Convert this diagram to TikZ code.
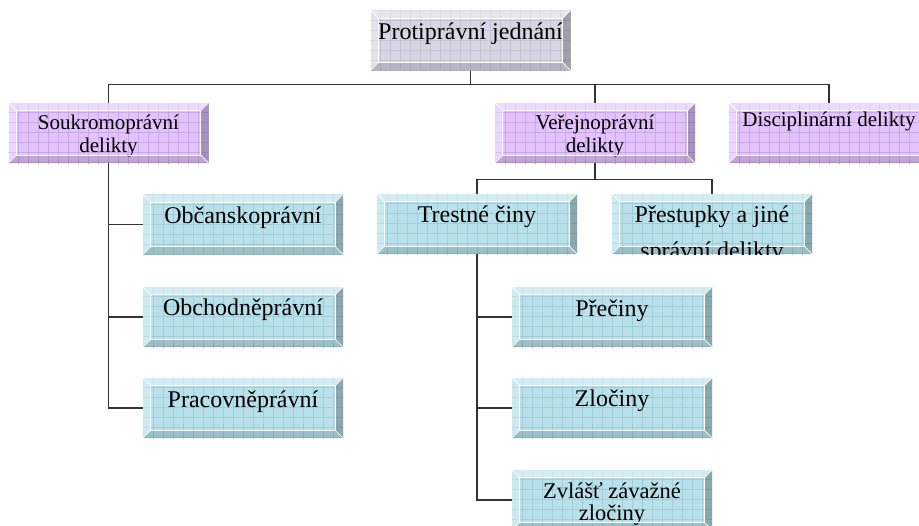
\documentclass[tikz,border=0pt]{standalone}
\usepackage{fontspec}
\setmainfont{Liberation Serif}
\usetikzlibrary{calc}
\definecolor{gface}{HTML}{D6D6E4}
\definecolor{ggrid}{HTML}{C2C2D4}
\definecolor{pface}{HTML}{E2C4FA}
\definecolor{pgrid}{HTML}{CDA4F2}
\definecolor{bface}{HTML}{BAE1EA}
\definecolor{bgrid}{HTML}{9CCFDB}
\tikzset{
  bx/.style={rectangle, minimum width=200pt, minimum height=60pt, inner sep=0pt, draw=none},
  lbl/.style={anchor=base, inner sep=0pt, text=black},
  fL/.style={font=\fontsize{24}{24}\selectfont},
  fM/.style={font=\fontsize{22.5}{22.5}\selectfont},
  fS/.style={font=\fontsize{21}{21}\selectfont},
  link/.style={draw=black!80, line width=1.1pt},
  gridln/.style={line width=0.6pt},
}
\newcommand\bvface[4]{%
  \node[bx, fill=#4face] (#1) at (#2,#3) {};
  \begin{scope}
    \clip (#1.north west) rectangle (#1.south east);
    \foreach \k in {1,...,20} \draw[#4grid, gridln] ($(#1.north west)+(\k*10,0)$) -- ++(0,70);
    \foreach \k in {1,...,6} \draw[#4grid, gridln] ($(#1.north west)+(0,\k*10)$) -- ++(210,0);
  \end{scope}
}
\newcommand\bvedge[1]{%
  \fill[white, fill opacity=0.4] (#1.north west) -- (#1.north east) -- ($(#1.north east)+(-8,8)$) -- ($(#1.north west)+(8,8)$) -- cycle;
  \fill[white, fill opacity=0.3] (#1.north west) -- (#1.south west) -- ($(#1.south west)+(8,-8)$) -- ($(#1.north west)+(8,8)$) -- cycle;
  \fill[black, fill opacity=0.25] (#1.north east) -- (#1.south east) -- ($(#1.south east)+(-8,-8)$) -- ($(#1.north east)+(-8,8)$) -- cycle;
  \fill[black, fill opacity=0.15] (#1.south west) -- (#1.south east) -- ($(#1.south east)+(-8,-8)$) -- ($(#1.south west)+(8,-8)$) -- cycle;
  \draw[white, line width=0.8pt] ($(#1.north west)+(8,8)$) rectangle ($(#1.south east)+(-8,-8)$);
  \draw[white, line width=0.7pt] (#1.north west) -- ++(8,8) (#1.north east) -- ++(-8,8)
    (#1.south west) -- ++(8,-8) (#1.south east) -- ++(-8,-8);
}
\begin{document}
\begin{tikzpicture}[x=1pt, y=-1pt]
\useasboundingbox (0,0) rectangle (919,526);
\clip (0,0) rectangle (919,526);
\fill[white] (0,0) rectangle (919,526);

% box faces
\bvface{top}{470.5}{40.5}{g}
\bvface{souk}{108.5}{133}{p}
\bvface{verej}{595}{133}{p}
\bvface{disc}{829}{133}{p}
\bvface{obc}{243}{224.5}{b}
\bvface{obch}{243}{317}{b}
\bvface{prac}{243}{408}{b}
\bvface{trest}{477}{224}{b}
\bvface{prest}{712}{224}{b}
\bvface{prec}{612}{317}{b}
\bvface{zloc}{612}{408}{b}
\bvface{zvl}{612}{500}{b}

% connectors
\draw[link] (top.south) -- ++(0,14) -| (souk.north);
\draw[link] (top.south) -- ++(0,14) -| (verej.north);
\draw[link] (top.south) -- ++(0,14) -| (disc.north);
\draw[link] (souk.south) |- (obc.west);
\draw[link] (souk.south) |- (obch.west);
\draw[link] (souk.south) |- (prac.west);
\draw[link] (verej.south) -- ++(0,16) -| (trest.north);
\draw[link] (verej.south) -- ++(0,16) -| (prest.north);
\draw[link] (trest.south) |- (prec.west);
\draw[link] (trest.south) |- (zloc.west);
\draw[link] (trest.south) |- (zvl.west);

% labels
\node[lbl, fL] (ltop) at (470.5,40) {Protiprávní jednání};
\node[lbl, fS] (lsouk1) at (108.5,130) {Soukromoprávní};
\node[lbl, fS] (lsouk2) at (108.5,153) {delikty};
\node[lbl, fS] (lverej1) at (595,130) {Veřejnoprávní};
\node[lbl, fS] (lverej2) at (595,153) {delikty};
\node[lbl, fS] (ldisc) at (829,127) {Disciplinární delikty};
\node[lbl, fL] (lobc) at (243,224) {Občanskoprávní};
\node[lbl, fL] (lobch) at (243,316) {Obchodněprávní};
\node[lbl, fL] (lprac) at (243,408) {Pracovněprávní};
\node[lbl, fL] (ltrest) at (477,223) {Trestné činy};
\node[lbl, fL] (lprec) at (612,317) {Přečiny};
\node[lbl, fL] (lzloc) at (612,407) {Zločiny};
\node[lbl, fM] (lzvl1) at (612,499) {Zvlášť závažné};
\node[lbl, fM] (lzvl2) at (612,521) {zločiny};

% bevels
\bvedge{top}
\bvedge{souk}
\bvedge{verej}
\bvedge{disc}
\bvedge{obc}
\bvedge{obch}
\bvedge{prac}
\bvedge{trest}
\bvedge{prest}
\bvedge{prec}
\bvedge{zloc}
\bvedge{zvl}

% overflowing two-line label, clipped at the box edge
\begin{scope}
  \clip (prest.north west) rectangle (prest.south east);
  \node[lbl, fL] (lprest1) at (712,223) {Přestupky a jiné};
  \node[lbl, fL] (lprest2) at (712,259) {správní delikty};
\end{scope}
\end{tikzpicture}
\end{document}
